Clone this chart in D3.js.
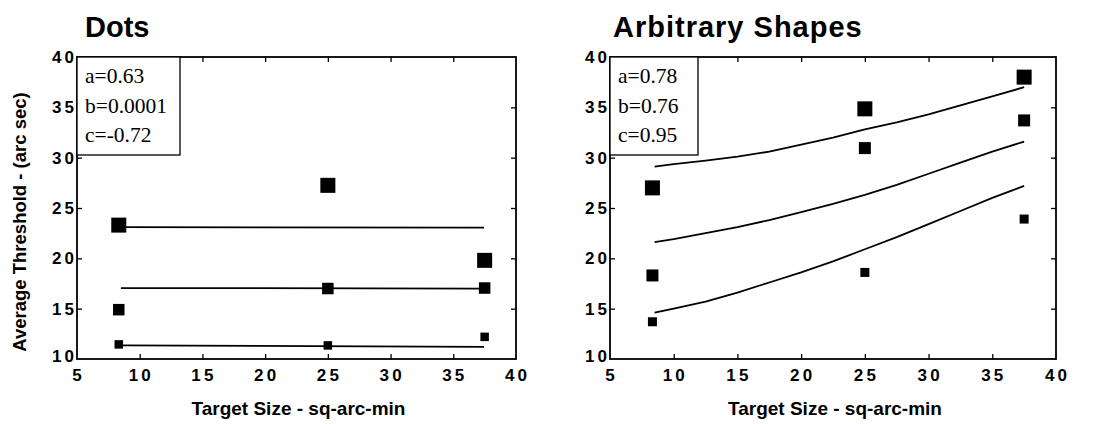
<!DOCTYPE html>
<html>
<head>
<meta charset="utf-8">
<script src="https://cdn.jsdelivr.net/npm/d3@7"></script>
<style>
  html, body { margin: 0; padding: 0; background: #fff; }
  svg { display: block; }
</style>
</head>
<body>
<svg id="chart" width="1106" height="424"></svg>
<script>
// ---------------- data ----------------
const panelTitles = ["Dots", "Arbitrary Shapes"];
const xTickValues = [5, 10, 15, 20, 25, 30, 35, 40];
const yTickValues = [10, 15, 20, 25, 30, 35, 40];
const xTitle = "Target Size - sq-arc-min";
const yTitle = "Average Threshold - (arc sec)";

const targetSizes = [8.33, 25, 37.5];

// Dots panel
const dotsLarge  = [23.3, 27.25, 19.8];
const dotsMedium = [14.9, 17.0, 17.05];
const dotsSmall  = [11.45, 11.35, 12.2];
const dotsFitX     = [8.5, 37.45];
const dotsFitHigh  = [23.1, 23.05];
const dotsFitMid   = [17.05, 17.0];
const dotsFitLow   = [11.35, 11.2];
const dotsParams = ["a=0.63", "b=0.0001", "c=-0.72"];

// Arbitrary shapes panel
const shapesLarge  = [27.0, 34.85, 38.0];
const shapesMedium = [18.3, 30.95, 33.7];
const shapesSmall  = [13.7, 18.6, 23.9];
const shapesFitX    = [8.5, 10, 12.5, 15, 17.5, 20, 22.5, 25, 27.5, 30, 32.5, 35, 37.5];
const shapesFitHigh = [29.1, 29.35, 29.7, 30.1, 30.6, 31.3, 32.0, 32.8, 33.5, 34.3, 35.2, 36.1, 37.0];
const shapesFitMid  = [21.6, 21.9, 22.5, 23.1, 23.8, 24.6, 25.4, 26.3, 27.3, 28.4, 29.5, 30.6, 31.6];
const shapesFitLow  = [14.6, 15.0, 15.7, 16.6, 17.6, 18.6, 19.7, 20.9, 22.1, 23.4, 24.7, 26.0, 27.2];
const shapesParams = ["a=0.78", "b=0.76", "c=0.95"];

// ---------------- drawing ----------------
const svg = d3.select("#chart");
const sans = "'Liberation Sans', Arial, Helvetica, sans-serif";
const serif = "'Liberation Serif', 'Times New Roman', serif";

const panels = [
  { title: panelTitles[0], x0: 77, x1: 516, titleX: 85, titleSp: 0,
    series: [dotsLarge, dotsMedium, dotsSmall], sizes: [15, 11.5, 8.5],
    fitX: dotsFitX, fits: [dotsFitHigh, dotsFitMid, dotsFitLow],
    params: dotsParams, boxW: 103, showYTitle: true },
  { title: panelTitles[1], x0: 610, x1: 1056, titleX: 613, titleSp: 1,
    series: [shapesLarge, shapesMedium, shapesSmall], sizes: [15, 12, 9],
    fitX: shapesFitX, fits: [shapesFitHigh, shapesFitMid, shapesFitLow],
    params: shapesParams, boxW: 88, showYTitle: false }
];

const yTop = 57, yBot = 359;
const tickLen = 5;
const tickFont = 17, letterSp = 3.2;

panels.forEach(p => {
  const x = d3.scaleLinear().domain([5, 40]).range([p.x0, p.x1]);
  const y = d3.scaleLinear().domain([10, 40]).range([yBot, yTop]);
  const g = svg.append("g");

  // title
  g.append("text")
    .attr("x", p.titleX).attr("y", 37)
    .attr("font-family", sans).attr("font-weight", "bold")
    .attr("font-size", 29).attr("letter-spacing", p.titleSp).attr("fill", "#000")
    .text(p.title);

  // axes via d3 (inward ticks, labels outside)
  const innerX = xTickValues.filter(v => v > 5 && v < 40);
  const innerY = yTickValues.filter(v => v > 10 && v < 40);

  const bottom = g.append("g").attr("transform", `translate(0,${yBot})`)
    .call(d3.axisBottom(x).tickValues(innerX).tickSize(-tickLen).tickFormat(""));
  const top = g.append("g").attr("transform", `translate(0,${yTop})`)
    .call(d3.axisTop(x).tickValues(innerX).tickSize(-tickLen).tickFormat(""));
  const left = g.append("g").attr("transform", `translate(${p.x0},0)`)
    .call(d3.axisLeft(y).tickValues(innerY).tickSize(-tickLen).tickFormat(""));
  const right = g.append("g").attr("transform", `translate(${p.x1},0)`)
    .call(d3.axisRight(y).tickValues(innerY).tickSize(-tickLen).tickFormat(""));
  [bottom, top, left, right].forEach(a => {
    a.select(".domain").remove();
    a.selectAll("line").attr("stroke", "#000").attr("stroke-width", 1.3);
  });

  // frame
  g.append("rect")
    .attr("x", p.x0).attr("y", yTop)
    .attr("width", p.x1 - p.x0).attr("height", yBot - yTop)
    .attr("fill", "none").attr("stroke", "#000").attr("stroke-width", 1.8);

  // x tick labels
  g.append("g").selectAll("text").data(xTickValues).join("text")
    .attr("x", d => x(d) + letterSp / 2)
    .attr("y", yBot + 22)
    .attr("text-anchor", "middle")
    .attr("font-family", sans).attr("font-weight", "bold")
    .attr("font-size", tickFont).attr("letter-spacing", letterSp)
    .text(d => d);

  // y tick labels
  g.append("g").selectAll("text").data(yTickValues).join("text")
    .attr("x", p.x0 - 3 + letterSp)
    .attr("y", d => y(d) + (d === 10 ? 3 : 6))
    .attr("text-anchor", "end")
    .attr("font-family", sans).attr("font-weight", "bold")
    .attr("font-size", tickFont).attr("letter-spacing", letterSp)
    .text(d => d);

  // x axis title
  g.append("text")
    .attr("x", (p.x0 + p.x1) / 2 + 2).attr("y", 415)
    .attr("text-anchor", "middle")
    .attr("font-family", sans).attr("font-weight", "bold")
    .attr("font-size", 19)
    .text(xTitle);

  if (p.showYTitle) {
    g.append("text")
      .attr("transform", `translate(26,${(yTop + yBot) / 2 + 14}) rotate(-90)`)
      .attr("text-anchor", "middle")
      .attr("font-family", sans).attr("font-weight", "bold")
      .attr("font-size", 18.5)
      .text(yTitle);
  }

  // fitted lines
  const line = d3.line().x(d => x(d[0])).y(d => y(d[1]));
  p.fits.forEach(vals => {
    g.append("path")
      .datum(p.fitX.map((xv, i) => [xv, vals[i]]))
      .attr("d", line)
      .attr("fill", "none").attr("stroke", "#000").attr("stroke-width", 1.8);
  });

  // markers
  p.series.forEach((vals, si) => {
    const s = p.sizes[si];
    g.append("g").selectAll("rect").data(vals).join("rect")
      .attr("x", (d, i) => x(targetSizes[i]) - s / 2)
      .attr("y", d => y(d) - s / 2)
      .attr("width", s).attr("height", s)
      .attr("fill", "#000");
  });

  // parameter box
  const boxH = 98;
  g.append("rect")
    .attr("x", p.x0).attr("y", yTop)
    .attr("width", p.boxW).attr("height", boxH)
    .attr("fill", "#fff").attr("stroke", "#000").attr("stroke-width", 1.3);
  g.append("g").selectAll("text").data(p.params).join("text")
    .attr("x", p.x0 + 8)
    .attr("y", (d, i) => yTop + 26 + i * 29.5)
    .attr("font-family", serif).attr("font-size", 21.5)
    .text(d => d);
});
</script>
</body>
</html>
